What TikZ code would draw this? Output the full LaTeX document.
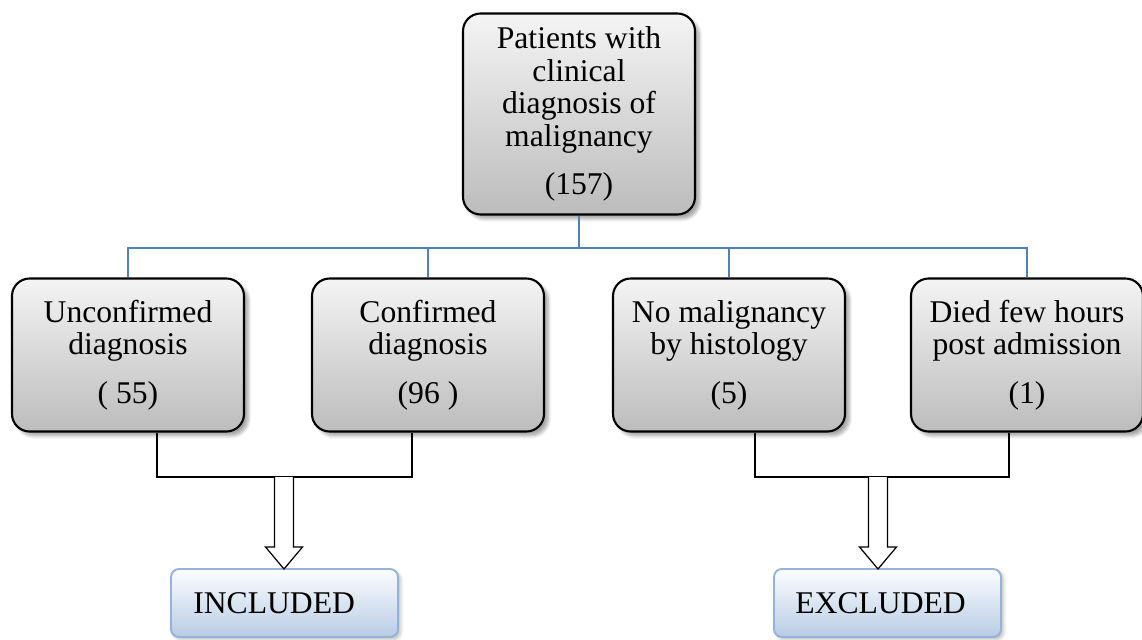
\documentclass[tikz,border=0pt]{standalone}
\usepackage{fontspec}
\setmainfont{Liberation Serif}
\usetikzlibrary{shadows.blur,calc}
\definecolor{linkblue}{RGB}{79,129,189}
\definecolor{grayTop}{RGB}{244,244,244}
\definecolor{grayBot}{RGB}{188,188,188}
\definecolor{blueTop}{RGB}{252,253,255}
\definecolor{blueBot}{RGB}{184,204,228}
\definecolor{blueEdge}{RGB}{149,179,215}
\tikzset{
  graybox/.style={draw=black, line width=1.2pt, rounded corners=10pt,
    top color=grayTop, bottom color=grayBot,
    minimum width=232*0.02cm, align=center, inner sep=0pt,
    font=\fontsize{18}{18.6}\selectfont,
    blur shadow={shadow xshift=2.5pt, shadow yshift=-2.5pt, shadow blur steps=6, shadow opacity=35}},
  bluebox/.style={draw=blueEdge, line width=1.1pt, rounded corners=4.5pt,
    top color=blueTop, bottom color=blueBot,
    minimum width=227*0.02cm, minimum height=68*0.02cm,
    font=\fontsize{18}{18.6}\selectfont,
    blur shadow={shadow xshift=1.5pt, shadow yshift=-1.5pt, shadow blur steps=4, shadow opacity=25}},
  link/.style={draw=linkblue, line width=1pt},
  bracket/.style={draw=black, line width=0.7pt},
  fatarrow/.style={draw=black, line width=0.7pt, fill=white}
}
\begin{document}
\begin{tikzpicture}[x=0.02cm,y=-0.02cm]
\useasboundingbox (0,0) rectangle (1142,639);

\node[graybox, minimum height=201*0.02cm] (top) at (579,114)
  {Patients with\\clinical\\diagnosis of\\malignancy\\[9pt](157)};

\node[graybox, minimum height=153*0.02cm] (b1) at (128,355)
  {Unconfirmed\\diagnosis\\[9pt]( 55)};
\node[graybox, minimum height=153*0.02cm] (b2) at (428,355)
  {Confirmed\\diagnosis\\[9pt](96 )};
\node[graybox, minimum height=153*0.02cm] (b3) at (729,355)
  {No malignancy\\by histology\\[9pt](5)};
\node[graybox, minimum height=153*0.02cm] (b4) at (1027,355)
  {Died few hours\\post admission\\[9pt](1)};

% blue tree connectors
\coordinate (hub) at (579,248);
\draw[link] (top.south) -- (hub);
\draw[link] (b1.north) |- (hub) -| (b4.north);
\draw[link] (b2.north) -- (b2.north |- hub);
\draw[link] (b3.north) -- (b3.north |- hub);

% brackets
\coordinate (lb1) at (157,477);
\coordinate (lb2) at (412,477);
\coordinate (rb1) at (755,477);
\coordinate (rb2) at (1009,477);
\draw[bracket] (b1.south -| lb1) -- (lb1) -- (lb2) -- (b2.south -| lb2);
\draw[bracket] (b3.south -| rb1) -- (rb1) -- (rb2) -- (b4.south -| rb2);

% result boxes
\node[bluebox] (inc) at (284.5,603) {};
\node[bluebox] (exc) at (887.5,603) {};
\node[anchor=west, inner sep=0pt, font=\fontsize{18}{18.6}\selectfont] (inct) at (193,603) {INCLUDED};
\node[anchor=west, inner sep=0pt, font=\fontsize{18}{18.6}\selectfont] (exct) at (795,603) {EXCLUDED};

% hollow arrows
\coordinate (la) at (284,477);
\coordinate (ra) at (878,477);
\draw[fatarrow, shift={(la)}] (-9.5,0) -- (-9.5,70) -- (-18.5,70) -- (0,92) -- (18.5,70) -- (9.5,70) -- (9.5,0);
\draw[fatarrow, shift={(ra)}] (-9.5,0) -- (-9.5,70) -- (-18.5,70) -- (0,92) -- (18.5,70) -- (9.5,70) -- (9.5,0);
\end{tikzpicture}
\end{document}
